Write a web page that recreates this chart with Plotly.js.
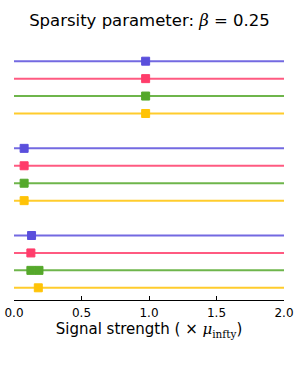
<!DOCTYPE html>
<html>
<head>
<meta charset="utf-8">
<script src="https://cdn.plot.ly/plotly-3.0.1.min.js"></script>
<style>html,body{margin:0;padding:0;background:#fff;}#chart{width:299px;height:374px;}</style>
</head>
<body>
<div id="chart"></div>
<script>
// Series (one row per method, three groups)
var methods = ["blue", "red", "green", "yellow"];
var colors = ["#5a4fdc", "#ff3d6b", "#55a82b", "#ffc307"];
// marker positions (signal strength) per group, per method
var group1 = [[0.975], [0.975], [0.975], [0.975]];
var group2 = [[0.075], [0.075], [0.075], [0.075]];
var group3 = [[0.13], [0.125], [0.125, 0.185], [0.18]];
var groups = [group1, group2, group3];
var xRange = [0, 2];
var tickVals = [0, 0.5, 1.0, 1.5, 2.0];
var tickText = ["0.0", "0.5", "1.0", "1.5", "2.0"];

var traces = [];
groups.forEach(function (g, gi) {
  g.forEach(function (vals, mi) {
    var row = gi * 5 + mi;
    traces.push({
      x: xRange, y: [row, row], mode: "lines", type: "scatter",
      line: {color: colors[mi], width: 2}, opacity: 0.85,
      hoverinfo: "skip", showlegend: false
    });
    traces.push({
      x: vals, y: vals.map(function () { return row; }), mode: "markers", type: "scatter",
      marker: {symbol: "square", size: 8, color: colors[mi],
               line: {color: colors[mi], width: 1}},
      showlegend: false
    });
  });
});

var serif = "<span style='font-family:DejaVu Serif'>";
var layout = {
  width: 299, height: 374,
  margin: {l: 14, r: 15, t: 49, b: 74},
  paper_bgcolor: "#fff", plot_bgcolor: "#fff",
  font: {family: "DejaVu Sans", color: "#000"},
  title: {text: "Sparsity parameter: " + serif + "<i>β</i></span> = 0.25", font: {size: 16.5, family: "DejaVu Sans", color: "#000"},
          x: 0.5, xanchor: "center", y: 0.945, yanchor: "middle"},
  xaxis: {
    range: xRange, tickvals: tickVals, ticktext: tickText,
    ticks: "inside", ticklen: 4, tickcolor: "#000", tickwidth: 1,
    showline: true, linecolor: "#000", linewidth: 1, mirror: false,
    showgrid: false, zeroline: false, ticklabelstandoff: 2,
    tickfont: {size: 12, family: "DejaVu Sans", color: "#000"},
    title: {text: "Signal strength ( × " + serif + "<i>μ</i><sub>infty</sub></span>)", font: {size: 15, family: "DejaVu Sans", color: "#000"}, standoff: 2},
    fixedrange: true
  },
  yaxis: {
    range: [13.7, -0.7], visible: false, showgrid: false, zeroline: false, fixedrange: true
  }
};

Plotly.newPlot("chart", traces, layout, {displayModeBar: false, staticPlot: true});
</script>
</body>
</html>
